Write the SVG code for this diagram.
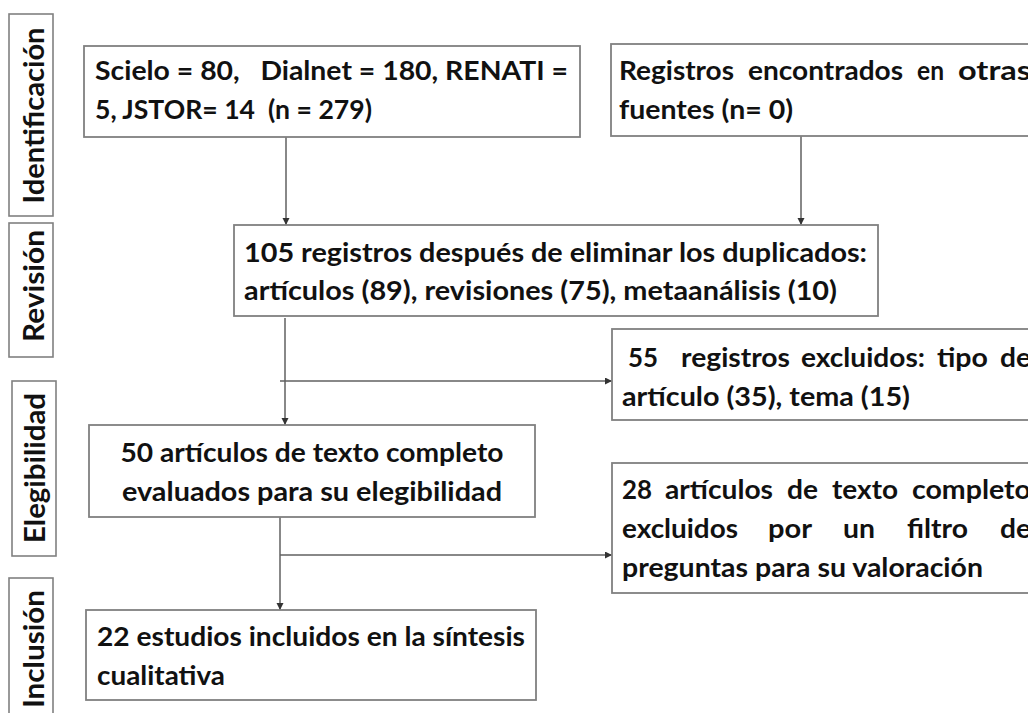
<svg xmlns="http://www.w3.org/2000/svg" width="1028" height="713" viewBox="0 0 1028 713">
<style>
.box{fill:#fff;stroke:#808080;stroke-width:1.8}
.lab{fill:#fff;stroke:#808080;stroke-width:1.6}
.t{font-family:Lato,"Liberation Sans",sans-serif;font-weight:bold;font-size:27.5px;fill:#111}
.v{font-family:Lato,"Liberation Sans",sans-serif;font-weight:bold;font-size:29px;fill:#111}
.c{fill:none;stroke:#606060;stroke-width:1.5}
</style>
<defs>
<marker id="ah" markerUnits="userSpaceOnUse" markerWidth="8" markerHeight="8" refX="7" refY="3.5" orient="auto">
<path d="M0,0 L7,3.5 L0,7 z" fill="#333"/>
</marker>
</defs>
<rect width="1028" height="713" fill="#fff"/>

<g id="label-identificacion">
<rect class="lab" x="9" y="14" width="44" height="202"/>
<text class="v" transform="translate(44,115.5) rotate(-90)" text-anchor="middle" textLength="176" lengthAdjust="spacingAndGlyphs">Identificación</text>
</g>
<g id="label-revision">
<rect class="lab" x="9" y="223" width="44" height="134"/>
<text class="v" transform="translate(44,286) rotate(-90)" text-anchor="middle" textLength="112" lengthAdjust="spacingAndGlyphs">Revisión</text>
</g>
<g id="label-elegibilidad">
<rect class="lab" x="12" y="381" width="44" height="175"/>
<text class="v" transform="translate(45,468) rotate(-90)" text-anchor="middle" textLength="150" lengthAdjust="spacingAndGlyphs">Elegibilidad</text>
</g>
<g id="label-inclusion">
<rect class="lab" x="9" y="578" width="44" height="145"/>
<text class="v" transform="translate(44,649) rotate(-90)" text-anchor="middle" textLength="118" lengthAdjust="spacingAndGlyphs">Inclusión</text>
</g>

<g id="connectors">
<line class="c" x1="286" y1="137" x2="286" y2="225" marker-end="url(#ah)"/>
<line class="c" x1="801" y1="136" x2="801" y2="225" marker-end="url(#ah)"/>
<line class="c" x1="285" y1="318" x2="285" y2="425" marker-end="url(#ah)"/>
<line class="c" x1="280" y1="381" x2="612" y2="381" marker-end="url(#ah)"/>
<line class="c" x1="280" y1="517" x2="280" y2="610" marker-end="url(#ah)"/>
<line class="c" x1="280" y1="555" x2="612" y2="555" marker-end="url(#ah)"/>
</g>

<g id="box-databases">
<rect class="box" x="84" y="46" width="496" height="91"/>
<text class="t" x="95" y="80" textLength="473" lengthAdjust="spacingAndGlyphs" xml:space="preserve">Scielo = 80,   Dialnet = 180, RENATI =</text>
<text class="t" x="95" y="119" textLength="277" lengthAdjust="spacingAndGlyphs" xml:space="preserve">5, JSTOR= 14  (n = 279)</text>
</g>

<g id="box-other-sources">
<rect class="box" x="611" y="44" width="430" height="92"/>
<text class="t" y="80"><tspan x="619" textLength="115" lengthAdjust="spacingAndGlyphs">Registros</tspan><tspan x="748" textLength="155" lengthAdjust="spacingAndGlyphs">encontrados</tspan><tspan x="917" textLength="27" lengthAdjust="spacingAndGlyphs">en</tspan><tspan x="958" textLength="73" lengthAdjust="spacingAndGlyphs">otras</tspan></text>
<text class="t" x="619" y="119" textLength="174" lengthAdjust="spacingAndGlyphs">fuentes (n= 0)</text>
</g>

<g id="box-after-duplicates">
<rect class="box" x="234" y="225" width="644" height="91"/>
<text class="t" x="244" y="262" textLength="623" lengthAdjust="spacingAndGlyphs">105 registros después de eliminar los duplicados:</text>
<text class="t" x="244" y="300" textLength="593" lengthAdjust="spacingAndGlyphs">artículos (89), revisiones (75), metaanálisis (10)</text>
</g>

<g id="box-excluded-records">
<rect class="box" x="612" y="329" width="430" height="91"/>
<text class="t" y="367"><tspan x="628" textLength="30" lengthAdjust="spacingAndGlyphs">55</tspan><tspan x="681" textLength="109" lengthAdjust="spacingAndGlyphs">registros</tspan><tspan x="801" textLength="124" lengthAdjust="spacingAndGlyphs">excluidos:</tspan><tspan x="937" textLength="51" lengthAdjust="spacingAndGlyphs">tipo</tspan><tspan x="1000" textLength="31" lengthAdjust="spacingAndGlyphs">de</tspan></text>
<text class="t" x="622" y="406" textLength="288" lengthAdjust="spacingAndGlyphs">artículo (35), tema (15)</text>
</g>

<g id="box-full-text">
<rect class="box" x="89" y="425" width="446" height="92"/>
<text class="t" x="312" y="462" text-anchor="middle" textLength="383" lengthAdjust="spacingAndGlyphs">50 artículos de texto completo</text>
<text class="t" x="312" y="501" text-anchor="middle" textLength="380" lengthAdjust="spacingAndGlyphs">evaluados para su elegibilidad</text>
</g>

<g id="box-excluded-full-text">
<rect class="box" x="612" y="463" width="430" height="130"/>
<text class="t" y="499"><tspan x="622" textLength="30" lengthAdjust="spacingAndGlyphs">28</tspan><tspan x="665" textLength="108" lengthAdjust="spacingAndGlyphs">artículos</tspan><tspan x="787" textLength="31" lengthAdjust="spacingAndGlyphs">de</tspan><tspan x="832" textLength="66" lengthAdjust="spacingAndGlyphs">texto</tspan><tspan x="912" textLength="119" lengthAdjust="spacingAndGlyphs">completo</tspan></text>
<text class="t" y="538"><tspan x="622" textLength="116" lengthAdjust="spacingAndGlyphs">excluidos</tspan><tspan x="768" textLength="44" lengthAdjust="spacingAndGlyphs">por</tspan><tspan x="843" textLength="32" lengthAdjust="spacingAndGlyphs">un</tspan><tspan x="907" textLength="61" lengthAdjust="spacingAndGlyphs">filtro</tspan><tspan x="1000" textLength="31" lengthAdjust="spacingAndGlyphs">de</tspan></text>
<text class="t" x="622" y="577" textLength="361" lengthAdjust="spacingAndGlyphs">preguntas para su valoración</text>
</g>

<g id="box-included">
<rect class="box" x="86" y="610" width="450" height="90"/>
<text class="t" x="97" y="646" textLength="428" lengthAdjust="spacingAndGlyphs">22 estudios incluidos en la síntesis</text>
<text class="t" x="97" y="685" textLength="128" lengthAdjust="spacingAndGlyphs">cualitativa</text>
</g>
</svg>
